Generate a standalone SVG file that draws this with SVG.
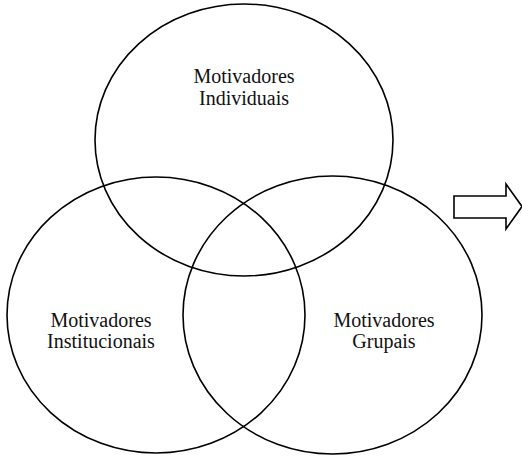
<svg xmlns="http://www.w3.org/2000/svg" width="522" height="458" viewBox="0 0 522 458">
<style>
.c{fill:none;stroke:#000;stroke-width:1.6}
.t{font-family:"Liberation Serif","Times New Roman",serif;font-size:20px;fill:#111;text-anchor:middle}
</style>
<rect width="522" height="458" fill="#fff"/>
<g id="individuais">
<ellipse class="c" cx="244" cy="140" rx="149" ry="136"/>
<text class="t" x="244" y="83">Motivadores</text>
<text class="t" x="244" y="105">Individuais</text>
</g>
<g id="institucionais">
<ellipse class="c" cx="156" cy="315" rx="149" ry="138"/>
<text class="t" x="101" y="327">Motivadores</text>
<text class="t" x="101" y="348">Institucionais</text>
</g>
<g id="grupais">
<ellipse class="c" cx="332.5" cy="315" rx="149.5" ry="139"/>
<text class="t" x="384" y="327">Motivadores</text>
<text class="t" x="384" y="348">Grupais</text>
</g>
<g id="connectors">
<polygon class="c" points="454,196 506,196 506,184 522,206.5 506,229 506,218 454,218"/>
</g>
</svg>
